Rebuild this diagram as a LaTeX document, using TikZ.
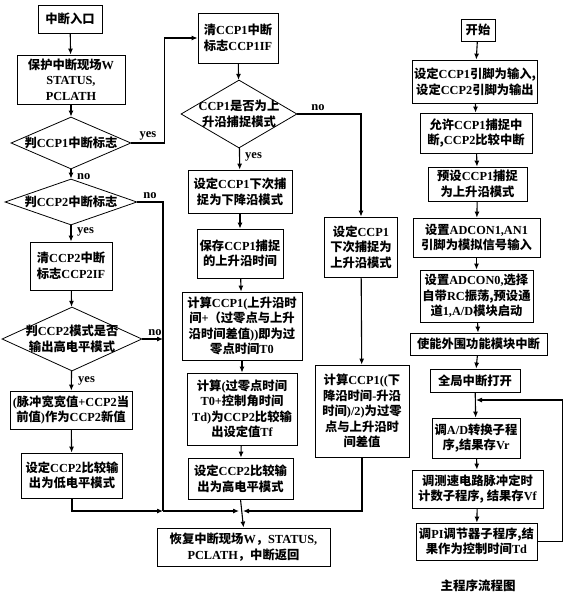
\documentclass[tikz,border=0pt]{standalone}
\usepackage{fontspec}
\setmainfont{Noto Sans CJK SC}
\newfontfamily\lt{Liberation Serif}
\usetikzlibrary{shapes.geometric,arrows.meta}
\tikzset{
  box/.style={draw, line width=0.8pt, align=center, inner sep=0pt, font=\bfseries\fontsize{12.3}{15.5}\selectfont},
  dia/.style={draw, diamond, line width=0.8pt, inner sep=0pt},
  dtext/.style={align=center, inner sep=0pt, font=\bfseries\fontsize{12.3}{15.5}\selectfont},
  arr/.style={line width=1.1pt, -{Latex[length=6pt,width=5pt]}},
  ln/.style={line width=1.1pt},
  lbl/.style={font=\lt\bfseries\fontsize{12.5}{14}\selectfont, inner sep=1pt}
}
\newcommand\mybox[6]{\node[box,minimum width=#4pt,minimum height=#5pt] (#1) at (#2,#3) {#6};}
\begin{document}
\begin{tikzpicture}[x=1pt,y=-1pt]
\useasboundingbox (0,0) rectangle (566,598);
% left column
\mybox{L1}{70}{19}{64}{28}{中断入口}
\mybox{L2}{71}{79.5}{108}{49}{保护中断现场{\lt W}\\{\lt STATUS,}\\{\lt PCLATH}}
\node[dia, minimum width=120pt, minimum height=52pt] (d1) at (71,143) {};
\node[dtext] (d1t) at (d1) {判{\lt CCP1}中断标志};
\node[dia, minimum width=132pt, minimum height=46pt] (d2) at (71,202) {};
\node[dtext] (d2t) at (d2) {判{\lt CCP2}中断标志};
\mybox{L3}{71}{266}{82}{48}{清{\lt CCP2}中断\\标志{\lt CCP2IF}}
\node[dia, minimum width=140pt, minimum height=64pt] (d3) at (72,339) {};
\node[dtext] (d3t) at (d3) {判{\lt CCP2}模式是否\\输出高电平模式};
\mybox{L4}{71}{410}{122}{38}{{\lt (}脉冲宽宽值{\lt +CCP2}当\\前值{\lt )}作为{\lt CCP2}新值}
\mybox{L5}{72}{475.5}{101}{45}{设定{\lt CCP2}比较输\\出为低电平模式}
% middle column
\mybox{M1}{238}{38}{80}{50}{清{\lt CCP1}中断\\标志{\lt CCP1IF}}
\node[dia, minimum width=116pt, minimum height=68pt] (d4) at (239,114) {};
\node[dtext] (d4t) at (d4) {{\lt CCP1}是否为上\\升沿捕捉模式};
\mybox{M2}{240}{191.5}{104}{43}{设定{\lt CCP1}下次捕\\捉为下降沿模式}
\mybox{M3}{240}{253.5}{86}{49}{保存{\lt CCP1}捕捉\\的上升沿时间}
\mybox{M4}{242}{326}{120}{68}{计算{\lt CCP1(}上升沿时\\间{\lt +}（过零点与上升\\沿时间差值{\lt ))}即为过\\零点时间{\lt T0}}
\mybox{M5}{242}{409}{110}{72}{计算{\lt (}过零点时间\\{\lt T0+}控制角时间\\{\lt Td)}为{\lt CCP2}比较输\\出设定值{\lt Tf}}
\mybox{M6}{240.5}{478.5}{105}{41}{设定{\lt CCP2}比较输\\出为高电平模式}
\mybox{R}{243.5}{547}{173}{38}{恢复中断现场{\lt W}，{\lt STATUS,}\\{\lt PCLATH}，中断返回}
\mybox{N1}{361}{247}{73}{60}{设定{\lt CCP1}\\下次捕捉为\\上升沿模式}
\mybox{N2}{362}{411}{94}{92}{计算{\lt CCP1((}下\\降沿时间{\lt -}升沿\\时间{\lt )/2)}为过零\\点与上升沿时\\间差值}
% right column
\mybox{P1}{478}{30}{34}{22}{开始}
\mybox{P2}{475}{81.5}{125}{43}{设定{\lt CCP1}引脚为输入,\\设定{\lt CCP2}引脚为输出}
\mybox{P3}{476}{133}{112}{40}{允许{\lt CCP1}捕捉中\\断,{\lt CCP2}比较中断}
\mybox{P4}{477.5}{184}{99}{34}{预设{\lt CCP1}捕捉\\为上升沿模式}
\mybox{P5}{476.5}{237.5}{127}{39}{设置{\lt ADCON1,AN1}\\引脚为模拟信号输入}
\mybox{P6}{476.5}{296}{113}{52}{设置{\lt ADCON0,}选择\\自带{\lt RC}振荡,预设通\\道{\lt 1,A/D}模块启动}
\mybox{P7}{478.5}{344}{137}{22}{使能外围功能模块中断}
\mybox{P8}{475}{380.5}{90}{23}{全局中断打开}
\mybox{P9}{476}{438}{88}{40}{调{\lt A/D}转换子程\\序,结果存{\lt Vr}}
\mybox{P10}{477.5}{489}{131}{38}{调测速电路脉冲定时\\计数子程序, 结果存{\lt Vf}}
\mybox{P11}{476.5}{541.5}{121}{37}{调{\lt PI}调节器子程序,结\\果作为控制时间{\lt Td}}
\node[font=\bfseries\fontsize{12.5}{14}\selectfont] (cap) at (478,586) {主程序流程图};
% coordinates
\coordinate (jl) at (163,511);
\coordinate (j3) at (163,339);
\coordinate (jcl) at (241,511);
\coordinate (jcr) at (241,511);
\coordinate (lp) at (476,400);
% left connectors
\draw[arr] (L1) -- (L2);
\draw[arr] (L2) -- (d1);
\draw[arr] (d1) -- (d2);
\draw[arr] (d2) -- (L3);
\draw[arr] (L3) -- (d3);
\draw[arr] (d3) -- (L4);
\draw[arr] (L4) -- (L5);
\draw[arr] (d1.east) -- ++(33,0) |- (M1.west);
\draw[ln] (d2.east) -| (jl);
\draw[arr] (d3.east) -- (j3);
\draw[arr] (L5.south) |- (jl);
\draw[arr] (jl) -- ([xshift=-2pt]jcl);
% middle connectors
\draw[arr] (M1) -- (d4);
\draw[arr] (d4) -- (M2);
\draw[arr] (M2) -- (M3);
\draw[arr] (M3) -- (M4);
\draw[arr] (M4) -- (M5);
\draw[arr] (M5) -- (M6);
\draw[arr] (M6.south) -- (R.north);
\draw[arr] (d4.east) -| (N1.north);
\draw[arr] (N1) -- (N2);
\draw[arr] (N2.south) |- ([xshift=2pt]jcr);
% right connectors
\draw[arr] (P1) -- (P2);
\draw[arr] (P2) -- (P3);
\draw[arr] (P3) -- (P4);
\draw[arr] (P4) -- (P5);
\draw[arr] (P5) -- (P6);
\draw[arr] (P6) -- (P7);
\draw[arr] (P7) -- (P8);
\draw[arr] (P8) -- (P9);
\draw[arr] (P9) -- (P10);
\draw[arr] (P10) -- (P11);
\draw[arr] (P11.east) -- ++(25,0) |- (lp);
% labels
\node[lbl, anchor=south] at (148,141) {yes};
\node[lbl, anchor=west] at (76,177) {no};
\node[lbl, anchor=south] at (150,200) {no};
\node[lbl, anchor=west] at (76,232) {yes};
\node[lbl, anchor=south] at (155,337) {no};
\node[lbl, anchor=west] at (77,381) {yes};
\node[lbl, anchor=south] at (318,112) {no};
\node[lbl, anchor=west] at (244,157) {yes};
\end{tikzpicture}
\end{document}
